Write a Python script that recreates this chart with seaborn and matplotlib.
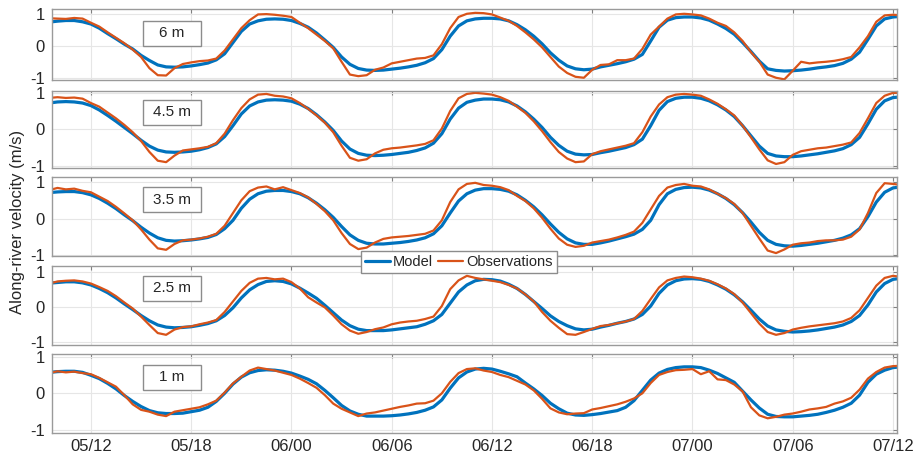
import numpy as np
import pandas as pd
import matplotlib
matplotlib.use("Agg")
import matplotlib.pyplot as plt
from matplotlib.patches import Rectangle
from matplotlib.lines import Line2D
import seaborn as sns

# ---------------- data (hours after day 05, 00:00; half-hour samples) ----------------
hours = np.arange(9.5, 60.51, 0.5)

tick_hours = [12, 18, 24, 30, 36, 42, 48, 54, 60]
tick_labels = ["05/12", "05/18", "06/00", "06/06", "06/12", "06/18", "07/00", "07/06", "07/12"]
depth_labels = ["6 m", "4.5 m", "3.5 m", "2.5 m", "1 m"]

model_6m = [0.74, 0.77, 0.79, 0.79, 0.75, 0.68, 0.55, 0.38, 0.22, 0.05,
            -0.10, -0.30, -0.46, -0.60, -0.66, -0.67, -0.66, -0.63, -0.59, -0.54,
            -0.44, -0.25, 0.10, 0.45, 0.68, 0.78, 0.83, 0.84, 0.83, 0.79,
            0.70, 0.58, 0.40, 0.18, -0.05, -0.35, -0.58, -0.71, -0.76, -0.77,
            -0.76, -0.73, -0.70, -0.66, -0.61, -0.53, -0.40, -0.12, 0.30, 0.62,
            0.78, 0.84, 0.86, 0.86, 0.84, 0.78, 0.66, 0.50, 0.30, 0.06,
            -0.22, -0.45, -0.63, -0.72, -0.75, -0.73, -0.66, -0.61, -0.56, -0.50,
            -0.42, -0.27, 0.15, 0.58, 0.80, 0.88, 0.90, 0.90, 0.87, 0.80,
            0.68, 0.54, 0.36, 0.10, -0.18, -0.48, -0.72, -0.77, -0.79, -0.78,
            -0.76, -0.73, -0.69, -0.66, -0.62, -0.55, -0.42, -0.20, 0.20, 0.62,
            0.84, 0.90, 0.92]
obs_6m = [0.86, 0.85, 0.84, 0.87, 0.85, 0.72, 0.60, 0.42, 0.25, 0.08,
          -0.12, -0.35, -0.70, -0.92, -0.93, -0.70, -0.57, -0.52, -0.48, -0.46,
          -0.40, -0.15, 0.20, 0.55, 0.80, 0.98, 0.99, 0.97, 0.94, 0.90,
          0.72, 0.55, 0.35, 0.15, -0.08, -0.50, -0.90, -0.95, -0.92, -0.75,
          -0.68, -0.55, -0.50, -0.45, -0.40, -0.38, -0.30, 0.05, 0.55, 0.90,
          1.00, 1.03, 1.02, 0.98, 0.88, 0.78, 0.62, 0.42, 0.20, -0.05,
          -0.35, -0.65, -0.85, -0.97, -1.00, -0.75, -0.60, -0.58, -0.45, -0.45,
          -0.40, -0.10, 0.35, 0.60, 0.85, 0.98, 1.00, 0.98, 0.95, 0.85,
          0.72, 0.62, 0.42, 0.15, -0.20, -0.50, -0.90, -1.00, -1.05, -0.78,
          -0.50, -0.55, -0.52, -0.50, -0.47, -0.42, -0.35, -0.05, 0.30, 0.75,
          0.95, 0.97, 0.95]

model_45m = [0.72, 0.75, 0.76, 0.75, 0.72, 0.65, 0.53, 0.38, 0.22, 0.05,
             -0.12, -0.30, -0.46, -0.57, -0.62, -0.63, -0.62, -0.60, -0.56, -0.50,
             -0.40, -0.20, 0.10, 0.42, 0.64, 0.75, 0.80, 0.81, 0.80, 0.77,
             0.69, 0.57, 0.40, 0.20, -0.03, -0.32, -0.54, -0.66, -0.71, -0.72,
             -0.71, -0.69, -0.66, -0.63, -0.58, -0.51, -0.38, -0.12, 0.28, 0.58,
             0.74, 0.80, 0.83, 0.83, 0.81, 0.75, 0.64, 0.48, 0.28, 0.05,
             -0.22, -0.44, -0.60, -0.68, -0.70, -0.69, -0.64, -0.60, -0.55, -0.50,
             -0.42, -0.27, 0.10, 0.52, 0.76, 0.85, 0.88, 0.88, 0.85, 0.78,
             0.67, 0.53, 0.35, 0.10, -0.18, -0.46, -0.66, -0.73, -0.75, -0.75,
             -0.73, -0.70, -0.67, -0.63, -0.59, -0.53, -0.42, -0.22, 0.15, 0.55,
             0.78, 0.87, 0.89]
obs_45m = [0.86, 0.88, 0.86, 0.87, 0.84, 0.72, 0.62, 0.46, 0.30, 0.12,
           -0.08, -0.32, -0.62, -0.86, -0.90, -0.72, -0.58, -0.55, -0.52, -0.48,
           -0.38, -0.12, 0.25, 0.58, 0.82, 0.95, 0.97, 0.92, 0.90, 0.85,
           0.72, 0.56, 0.38, 0.18, -0.08, -0.45, -0.78, -0.86, -0.82, -0.66,
           -0.56, -0.52, -0.50, -0.47, -0.44, -0.40, -0.30, 0.02, 0.50, 0.85,
           0.97, 1.00, 0.98, 0.95, 0.88, 0.78, 0.62, 0.45, 0.22, -0.05,
           -0.35, -0.62, -0.80, -0.90, -0.88, -0.68, -0.60, -0.55, -0.50, -0.45,
           -0.38, -0.08, 0.35, 0.68, 0.88, 0.95, 0.97, 0.95, 0.92, 0.82,
           0.70, 0.55, 0.38, 0.10, -0.22, -0.55, -0.85, -0.95, -0.90, -0.70,
           -0.60, -0.56, -0.52, -0.50, -0.46, -0.42, -0.36, -0.10, 0.30, 0.72,
           0.92, 1.00, 1.00]

model_35m = [0.71, 0.73, 0.74, 0.74, 0.71, 0.65, 0.55, 0.42, 0.27, 0.10,
             -0.06, -0.24, -0.40, -0.53, -0.60, -0.62, -0.61, -0.59, -0.56, -0.52,
             -0.44, -0.28, -0.05, 0.28, 0.53, 0.68, 0.75, 0.77, 0.77, 0.74,
             0.68, 0.57, 0.42, 0.24, 0.03, -0.22, -0.45, -0.60, -0.68, -0.70,
             -0.70, -0.68, -0.66, -0.63, -0.59, -0.53, -0.42, -0.20, 0.15, 0.48,
             0.68, 0.78, 0.82, 0.82, 0.80, 0.75, 0.65, 0.50, 0.32, 0.10,
             -0.15, -0.38, -0.56, -0.67, -0.71, -0.71, -0.67, -0.62, -0.56, -0.50,
             -0.43, -0.30, -0.05, 0.38, 0.68, 0.80, 0.85, 0.86, 0.84, 0.78,
             0.68, 0.55, 0.38, 0.16, -0.10, -0.38, -0.60, -0.71, -0.75, -0.76,
             -0.74, -0.71, -0.68, -0.64, -0.60, -0.54, -0.45, -0.28, 0.05, 0.45,
             0.72, 0.84, 0.87]
obs_35m = [0.78, 0.84, 0.80, 0.82, 0.76, 0.72, 0.60, 0.48, 0.32, 0.14,
           -0.05, -0.30, -0.58, -0.82, -0.86, -0.70, -0.60, -0.58, -0.55, -0.50,
           -0.42, -0.20, 0.15, 0.50, 0.75, 0.85, 0.88, 0.80, 0.86, 0.78,
           0.70, 0.58, 0.40, 0.20, -0.05, -0.40, -0.70, -0.84, -0.80, -0.66,
           -0.56, -0.52, -0.50, -0.48, -0.45, -0.42, -0.33, -0.05, 0.45, 0.80,
           0.95, 0.98, 0.92, 0.90, 0.86, 0.78, 0.62, 0.48, 0.28, 0.02,
           -0.28, -0.55, -0.72, -0.78, -0.75, -0.66, -0.62, -0.58, -0.52, -0.45,
           -0.36, -0.12, 0.25, 0.62, 0.85, 0.92, 0.95, 0.90, 0.88, 0.80,
           0.68, 0.56, 0.40, 0.15, -0.20, -0.55, -0.88, -0.95, -0.85, -0.72,
           -0.68, -0.66, -0.62, -0.60, -0.60, -0.58, -0.50, -0.30, 0.15, 0.70,
           0.97, 0.95, 0.92]

model_25m = [0.67, 0.69, 0.71, 0.71, 0.68, 0.62, 0.52, 0.40, 0.25, 0.08,
             -0.08, -0.25, -0.40, -0.52, -0.58, -0.60, -0.59, -0.57, -0.53, -0.48,
             -0.40, -0.25, -0.03, 0.25, 0.48, 0.63, 0.72, 0.74, 0.72, 0.65,
             0.53, 0.39, 0.24, 0.04, -0.17, -0.38, -0.54, -0.64, -0.68, -0.68,
             -0.68, -0.66, -0.63, -0.60, -0.57, -0.50, -0.40, -0.22, 0.10, 0.42,
             0.62, 0.74, 0.78, 0.77, 0.73, 0.64, 0.52, 0.35, 0.15, -0.05,
             -0.26, -0.42, -0.54, -0.63, -0.66, -0.64, -0.58, -0.53, -0.47, -0.42,
             -0.35, -0.22, 0.02, 0.38, 0.62, 0.74, 0.79, 0.80, 0.78, 0.72,
             0.62, 0.50, 0.34, 0.14, -0.10, -0.35, -0.55, -0.66, -0.70, -0.72,
             -0.71, -0.69, -0.66, -0.62, -0.58, -0.52, -0.42, -0.25, 0.05, 0.42,
             0.66, 0.78, 0.81]
obs_25m = [0.66, 0.72, 0.74, 0.75, 0.72, 0.66, 0.56, 0.45, 0.30, 0.12,
           -0.05, -0.28, -0.52, -0.75, -0.80, -0.65, -0.58, -0.56, -0.50, -0.45,
           -0.38, -0.15, 0.15, 0.45, 0.68, 0.80, 0.82, 0.78, 0.80, 0.70,
           0.52, 0.27, 0.12, -0.02, -0.25, -0.50, -0.68, -0.77, -0.72, -0.64,
           -0.59, -0.50, -0.45, -0.42, -0.40, -0.35, -0.28, 0.02, 0.50, 0.75,
           0.88, 0.82, 0.78, 0.74, 0.70, 0.62, 0.52, 0.35, 0.15, -0.15,
           -0.40, -0.60, -0.78, -0.80, -0.72, -0.63, -0.55, -0.52, -0.47, -0.42,
           -0.35, -0.12, 0.22, 0.55, 0.75, 0.82, 0.86, 0.84, 0.80, 0.74,
           0.64, 0.52, 0.36, 0.12, -0.18, -0.48, -0.72, -0.80, -0.75, -0.65,
           -0.60, -0.56, -0.53, -0.50, -0.47, -0.42, -0.32, -0.10, 0.25, 0.60,
           0.82, 0.88, 0.85]

model_1m = [0.57, 0.59, 0.60, 0.60, 0.57, 0.49, 0.40, 0.27, 0.12, -0.06,
            -0.22, -0.36, -0.47, -0.53, -0.55, -0.55, -0.54, -0.50, -0.46, -0.38,
            -0.22, 0.00, 0.25, 0.44, 0.56, 0.62, 0.64, 0.63, 0.60, 0.55,
            0.47, 0.38, 0.26, 0.08, -0.12, -0.33, -0.48, -0.57, -0.62, -0.62,
            -0.62, -0.61, -0.59, -0.56, -0.52, -0.46, -0.37, -0.18, 0.14, 0.42,
            0.58, 0.66, 0.68, 0.66, 0.60, 0.53, 0.45, 0.28, 0.12, -0.06,
            -0.27, -0.42, -0.54, -0.59, -0.60, -0.58, -0.55, -0.51, -0.47, -0.38,
            -0.20, 0.08, 0.36, 0.55, 0.65, 0.70, 0.72, 0.72, 0.70, 0.63,
            0.54, 0.42, 0.30, 0.06, -0.18, -0.40, -0.57, -0.63, -0.64, -0.64,
            -0.62, -0.60, -0.57, -0.52, -0.46, -0.38, -0.27, -0.05, 0.30, 0.52,
            0.63, 0.70, 0.72]
obs_1m = [0.55, 0.60, 0.57, 0.59, 0.55, 0.52, 0.42, 0.30, 0.18, -0.05,
          -0.30, -0.45, -0.50, -0.58, -0.62, -0.50, -0.46, -0.42, -0.38, -0.30,
          -0.20, 0.02, 0.27, 0.45, 0.62, 0.70, 0.66, 0.62, 0.56, 0.50,
          0.40, 0.28, 0.15, -0.05, -0.28, -0.42, -0.52, -0.62, -0.55, -0.52,
          -0.47, -0.42, -0.37, -0.33, -0.28, -0.27, -0.20, 0.00, 0.31, 0.55,
          0.66, 0.68, 0.62, 0.58, 0.50, 0.44, 0.34, 0.24, 0.08, -0.15,
          -0.41, -0.52, -0.57, -0.55, -0.54, -0.44, -0.40, -0.35, -0.30, -0.23,
          -0.14, 0.00, 0.28, 0.50, 0.58, 0.63, 0.64, 0.66, 0.52, 0.60,
          0.38, 0.36, 0.24, 0.05, -0.38, -0.60, -0.68, -0.64, -0.58, -0.55,
          -0.50, -0.44, -0.41, -0.37, -0.28, -0.22, -0.12, 0.10, 0.40, 0.58,
          0.70, 0.74, 0.75]

models = [model_6m, model_45m, model_35m, model_25m, model_1m]
observations = [obs_6m, obs_45m, obs_35m, obs_25m, obs_1m]

# ---------------- style ----------------
sns.set_theme(style="white")
plt.rcParams["font.family"] = ["Liberation Sans", "DejaVu Sans"]

BLUE = "#0072BD"
ORANGE = "#D95319"
TXT = "#262626"
EDGE = "#9a9a9a"

W, H = 917, 462
fig = plt.figure(figsize=(W / 100, H / 100), dpi=100)

panel_px = [(9, 80), (91, 168), (177, 256), (266, 345), (354, 433)]
ylims = [(-1.07, 1.15), (-1.06, 1.05), (-1.03, 1.14), (-1.09, 1.16), (-1.08, 1.07)]
box_centers = [33, 112, 200, 288, 377]
left_px, right_px = 52, 897

axes = []
for i, (top, bot) in enumerate(panel_px):
    ax = fig.add_axes([left_px / W, 1 - bot / H, (right_px - left_px) / W, (bot - top) / H])
    df = pd.DataFrame({"t": hours, "Model": models[i], "Observations": observations[i]})
    sns.lineplot(data=df, x="t", y="Model", ax=ax, color=BLUE, linewidth=2.3, legend=False)
    sns.lineplot(data=df, x="t", y="Observations", ax=ax, color=ORANGE, linewidth=1.6, legend=False)
    ax.set_xlim(9.67, 60.24)
    ax.set_ylim(*ylims[i])
    ax.set_yticks([-1, 0, 1])
    ax.set_yticklabels(["-1", "0", "1"])
    ax.set_xticks(tick_hours)
    if i == 4:
        ax.set_xticklabels(tick_labels)
    else:
        ax.set_xticklabels([])
    ax.set_xlabel("")
    ax.set_ylabel("")
    ax.grid(True, color="#e6e6e6", linewidth=0.8)
    ax.set_axisbelow(True)
    for sp in ax.spines.values():
        sp.set_color(EDGE)
        sp.set_linewidth(1.0)
        sp.set_visible(True)
    ax.tick_params(direction="in", length=3, width=0.8, color="#808080",
                   top=True, right=True, labelsize=12, labelcolor=TXT, pad=5)
    ax.tick_params(axis="x", pad=4)
    # depth label box
    cy = box_centers[i]
    rect = Rectangle((143 / W, 1 - (cy + 12.5) / H), 58 / W, 25 / H, transform=fig.transFigure,
                     facecolor="white", edgecolor="#8c8c8c", linewidth=1.0, zorder=10)
    fig.patches.append(rect)
    fig.text(172 / W, 1 - cy / H, depth_labels[i], ha="center", va="center",
             fontsize=11, color=TXT, zorder=11)
    axes.append(ax)

handles = [Line2D([], [], color=BLUE, linewidth=2.3), Line2D([], [], color=ORANGE, linewidth=1.6)]
leg = fig.legend(handles, ["Model", "Observations"], loc="center",
                 bbox_to_anchor=(459 / W, 1 - 262 / H), ncol=2, fontsize=10.5,
                 frameon=True, fancybox=False, edgecolor="#8c8c8c", framealpha=1,
                 handlelength=1.7, handletextpad=0.2, columnspacing=0.35,
                 borderpad=0.3, borderaxespad=0)
leg.get_frame().set_linewidth(1.0)
for txt in leg.get_texts():
    txt.set_color(TXT)

fig.text(18 / W, 1 - 222 / H, "Along-river velocity (m/s)", rotation=90,
         ha="center", va="center", fontsize=12, color=TXT)

fig.savefig("out.png", dpi=100)
